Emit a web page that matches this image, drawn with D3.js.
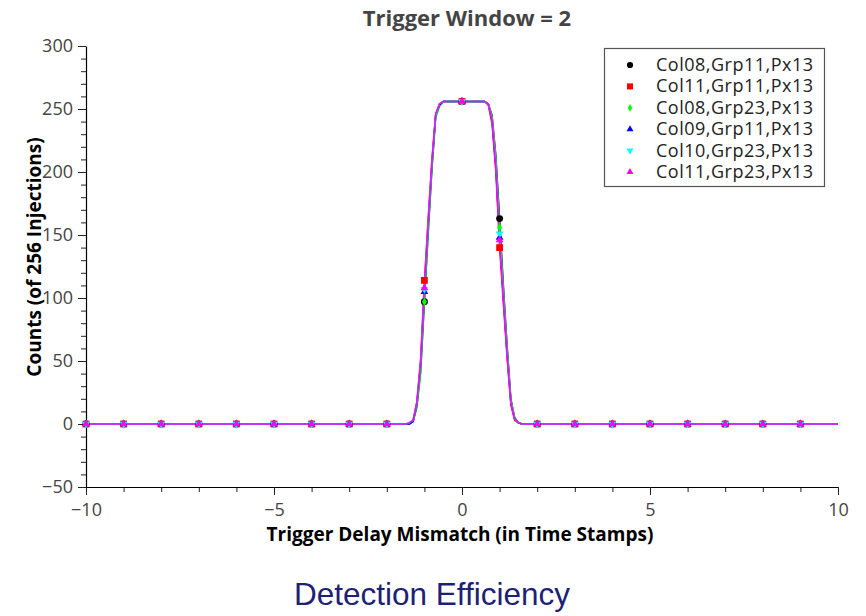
<!DOCTYPE html>
<html>
<head>
<meta charset="utf-8">
<script src="https://cdn.jsdelivr.net/npm/d3@7"></script>
<style>
  body { margin: 0; background: #fff; }
  svg { display: block; }
</style>
</head>
<body>
<svg id="chart" width="866" height="616"></svg>
<script>
// Trigger delay scan (in time stamps); fine steps around the efficiency plateau
const delays = [-10, -9, -8, -7, -6, -5, -4, -3, -2,
  -1.5, -1.4, -1.3, -1.2, -1.1, -1.0, -0.9, -0.8, -0.7, -0.6, -0.5,
  -0.4, -0.3, -0.2, -0.1, 0, 0.1, 0.2, 0.3, 0.4, 0.5, 0.6,
  0.7, 0.8, 0.9, 1.0, 1.1, 1.2, 1.3, 1.4, 1.5, 1.6,
  2, 3, 4, 5, 6, 7, 8, 9, 10];

// Delays at which a marker is plotted
const markerDelays = [-10, -9, -8, -7, -6, -5, -4, -3, -2, -1, 0, 1, 2, 3, 4, 5, 6, 7, 8, 9];

const seriesNames = ["Col08,Grp11,Px13", "Col11,Grp11,Px13", "Col08,Grp23,Px13",
                     "Col09,Grp11,Px13", "Col10,Grp23,Px13", "Col11,Grp23,Px13"];
const seriesColors = ["#000000", "#ff0000", "#00ff00", "#0000ff", "#00ffff", "#ff00ff"];

// Hit counts out of 256 injections, one array per pixel
const countsCol08Grp11 = [0, 0, 0, 0, 0, 0, 0, 0, 0,
  0, 0, 2, 14, 42, 97, 152, 203, 244, 253, 256,
  256, 256, 256, 256, 256, 256, 256, 256, 256, 256, 256,
  254, 245, 213, 163, 110, 62, 20, 5, 1, 0,
  0, 0, 0, 0, 0, 0, 0, 0, 0];
const countsCol11Grp11 = [0, 0, 0, 0, 0, 0, 0, 0, 0,
  0, 0, 3, 18, 52, 114, 163, 210, 246, 254, 256,
  256, 256, 256, 256, 256, 256, 256, 256, 256, 256, 256,
  253, 238, 200, 140, 96, 52, 15, 3, 1, 0,
  0, 0, 0, 0, 0, 0, 0, 0, 0];
const countsCol08Grp23 = [0, 0, 0, 0, 0, 0, 0, 0, 0,
  0, 0, 2, 13, 40, 97, 150, 201, 243, 252, 256,
  256, 256, 256, 256, 256, 256, 256, 256, 256, 256, 256,
  254, 244, 211, 156, 107, 60, 19, 5, 1, 0,
  0, 0, 0, 0, 0, 0, 0, 0, 0];
const countsCol09Grp11 = [0, 0, 0, 0, 0, 0, 0, 0, 0,
  0, 0, 2, 16, 47, 105, 158, 206, 245, 253, 256,
  256, 256, 256, 256, 256, 256, 256, 256, 256, 256, 256,
  254, 241, 205, 148, 101, 56, 17, 4, 1, 0,
  0, 0, 0, 0, 0, 0, 0, 0, 0];
const countsCol10Grp23 = [0, 0, 0, 0, 0, 0, 0, 0, 0,
  0, 1, 3, 17, 48, 107, 160, 207, 245, 254, 256,
  256, 256, 256, 256, 256, 256, 256, 256, 256, 256, 256,
  254, 242, 207, 151, 103, 57, 18, 4, 1, 0,
  0, 0, 0, 0, 0, 0, 0, 0, 0];
const countsCol11Grp23 = [0, 0, 0, 0, 0, 0, 0, 0, 0,
  0, 1, 3, 17, 49, 108, 160, 208, 246, 254, 256,
  256, 256, 256, 256, 256, 256, 256, 256, 256, 256, 256,
  254, 241, 204, 146, 100, 55, 17, 4, 1, 0,
  0, 0, 0, 0, 0, 0, 0, 0, 0];

const seriesCounts = [countsCol08Grp11, countsCol11Grp11, countsCol08Grp23,
                      countsCol09Grp11, countsCol10Grp23, countsCol11Grp23];

const xMajorTicks = [-10, -5, 0, 5, 10];
const xMinorTicks = [-10, -9, -8, -7, -6, -5, -4, -3, -2, -1, 0, 1, 2, 3, 4, 5, 6, 7, 8, 9, 10];
const yMajorTicks = [-50, 0, 50, 100, 150, 200, 250, 300];
const yMinorTicks = [-50, -40, -30, -20, -10, 0, 10, 20, 30, 40, 50, 60, 70, 80, 90, 100,
  110, 120, 130, 140, 150, 160, 170, 180, 190, 200, 210, 220, 230, 240, 250, 260, 270, 280, 290, 300];

// Marker shape per series
const seriesSymbols = [
  { type: d3.symbolCircle, size: 38, rotate: 0 },
  { type: d3.symbolSquare, size: 46, rotate: 0 },
  { type: d3.symbolDiamond, size: 22, rotate: 0 },
  { type: d3.symbolTriangle, size: 26, rotate: 0 },
  { type: d3.symbolTriangle, size: 26, rotate: 180 },
  { type: d3.symbolTriangle, size: 26, rotate: 0 }
];

const svg = d3.select("#chart");
const plotLeft = 86, plotRight = 838, plotTop = 46, plotBottom = 487;
const x = d3.scaleLinear().domain([-10, 10]).range([plotLeft, plotRight]);
const y = d3.scaleLinear().domain([-50, 300]).range([plotBottom, plotTop]);

const tickFont = "'Open Sans', 'Noto Sans', sans-serif";

// Minor ticks (no labels)
svg.append("g")
  .attr("transform", `translate(0,${plotBottom})`)
  .call(d3.axisBottom(x).tickValues(xMinorTicks).tickSize(5).tickSizeOuter(0).tickFormat(""))
  .call(g => g.select(".domain").remove());
svg.append("g")
  .attr("transform", `translate(${plotLeft},0)`)
  .call(d3.axisLeft(y).tickValues(yMinorTicks).tickSize(5).tickSizeOuter(0).tickFormat(""))
  .call(g => g.select(".domain").remove());

// Major ticks with labels
const xAxis = svg.append("g")
  .attr("transform", `translate(0,${plotBottom})`)
  .call(d3.axisBottom(x).tickValues(xMajorTicks).tickSize(8).tickSizeOuter(0).tickPadding(8));
const yAxis = svg.append("g")
  .attr("transform", `translate(${plotLeft},0)`)
  .call(d3.axisLeft(y).tickValues(yMajorTicks).tickSize(8).tickSizeOuter(0).tickPadding(5));

[xAxis, yAxis].forEach(ax => {
  ax.selectAll("text").attr("font-family", tickFont).attr("font-size", 18).attr("fill", "#444");
  ax.select(".domain").attr("stroke", "#000").attr("stroke-width", 1.2);
});
svg.selectAll(".tick line").attr("stroke", "#222");

// Series: line through all scan points, markers at integer delays
const line = d3.line().x(d => x(d[0])).y(d => y(d[1]));
const plot = svg.append("g");
seriesCounts.forEach((counts, i) => {
  const pts = delays.map((d, k) => [d, counts[k]]);
  plot.append("path")
    .datum(pts)
    .attr("fill", "none")
    .attr("stroke", seriesColors[i])
    .attr("stroke-width", 1.5)
    .attr("d", line);
});
seriesCounts.forEach((counts, i) => {
  const pts = markerDelays.map(d => [d, counts[delays.indexOf(d)]]);
  const s = seriesSymbols[i];
  plot.append("g").selectAll("path")
    .data(pts)
    .join("path")
    .attr("transform", d => `translate(${x(d[0])},${y(d[1])}) rotate(${s.rotate})`)
    .attr("d", d3.symbol().type(s.type).size(s.size))
    .attr("fill", seriesColors[i]);
});

// Legend
const legend = svg.append("g");
legend.append("rect")
  .attr("x", 604.5).attr("y", 48.5).attr("width", 220).attr("height", 138)
  .attr("fill", "#fff").attr("stroke", "#555").attr("stroke-width", 1.2);
seriesNames.forEach((name, i) => {
  const cy = 65 + i * 21.4;
  const s = seriesSymbols[i];
  legend.append("path")
    .attr("transform", `translate(630,${cy}) rotate(${s.rotate})`)
    .attr("d", d3.symbol().type(s.type).size(s.size * 0.8))
    .attr("fill", seriesColors[i]);
  legend.append("text")
    .attr("x", 656).attr("y", cy + 6)
    .attr("font-family", tickFont).attr("font-size", 18).attr("letter-spacing", 0.5).attr("fill", "#222")
    .text(name);
});

// Titles
svg.append("text")
  .attr("x", 467).attr("y", 26).attr("text-anchor", "middle")
  .attr("font-family", tickFont).attr("font-weight", "bold").attr("font-size", 22).attr("fill", "#444")
  .text("Trigger Window = 2");
svg.append("text")
  .attr("x", 460).attr("y", 541).attr("text-anchor", "middle")
  .attr("font-family", tickFont).attr("font-weight", "bold").attr("font-size", 19).attr("fill", "#000")
  .text("Trigger Delay Mismatch (in Time Stamps)");
svg.append("text")
  .attr("transform", "translate(41,257) rotate(-90)")
  .attr("text-anchor", "middle")
  .attr("font-family", tickFont).attr("font-weight", "bold").attr("font-size", 19).attr("fill", "#000")
  .text("Counts (of 256 Injections)");
svg.append("text")
  .attr("x", 432).attr("y", 605).attr("text-anchor", "middle")
  .attr("font-family", "'Liberation Sans', Arial, sans-serif").attr("font-size", 31.5).attr("fill", "#1f1f75")
  .text("Detection Efficiency");
</script>
</body>
</html>
